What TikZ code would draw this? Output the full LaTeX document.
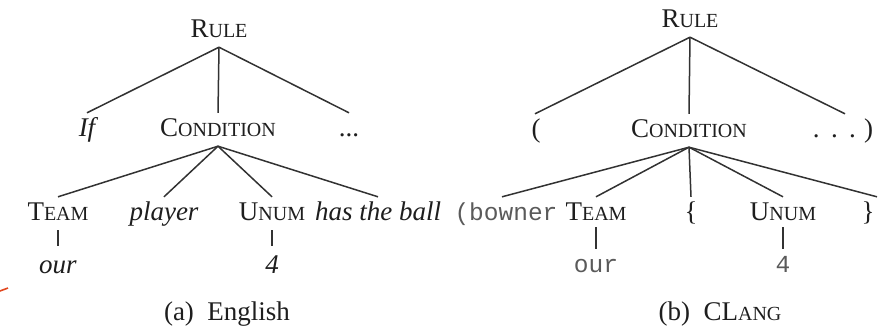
\documentclass[tikz,border=0pt]{standalone}
\usepackage{fontspec}
\setmainfont{Liberation Serif}
\setmonofont{Liberation Mono}
\newcommand\smcap[2]{#1{\fontsize{20}{20}\selectfont #2}}
\definecolor{ink}{RGB}{30,30,30}
\definecolor{lineink}{RGB}{50,50,50}
\definecolor{ttink}{RGB}{90,90,90}
\definecolor{redmark}{RGB}{225,70,30}
\tikzset{
  lbl/.style={inner xsep=0pt, inner ysep=5pt, text height=18pt, text depth=5pt,
              anchor=base, text=ink, font=\fontsize{27}{30}\selectfont},
  it/.style={lbl, font=\fontsize{27}{30}\selectfont\itshape},
  tt/.style={lbl, text=ttink, font=\fontsize{24.5}{28}\selectfont\ttfamily},
  edge/.style={draw=lineink, line width=1.5pt},
  captionlbl/.style={inner sep=0pt, anchor=base, text=ink, font=\fontsize{27}{30}\selectfont}
}
\begin{document}
\begin{tikzpicture}[x=1pt,y=-1pt]
\useasboundingbox (0,0) rectangle (881,325);
% ---- (a) English ----
\node[lbl] (lrule) at (219,37) {\smcap{R}{ULE}};
\node[it]  (lif)   at (87,136) {If};
\node[lbl] (lcond) at (218,136) {\smcap{C}{ONDITION}};
\node[lbl] (ldots) at (349,136) {...};
\node[lbl] (lteam) at (58,220) {\smcap{T}{EAM}};
\node[it]  (lplayer) at (164,220) {player};
\node[lbl] (lunum) at (272,220) {\smcap{U}{NUM}};
\node[it]  (lball) at (378,220) {has the ball};
\node[it]  (lour)  at (58,273) {our};
\node[it]  (lfour) at (272,273) {4};
\node[captionlbl] (lcap)  at (227,320) {(a)\ \ English};
\draw[edge] (lrule.south) -- (lif.north);
\draw[edge] (lrule.south) -- (lcond.north);
\draw[edge] (lrule.south) -- (ldots.north);
\draw[edge] (lcond.south) -- (lteam.north);
\draw[edge] (lcond.south) -- (lplayer.north);
\draw[edge] (lcond.south) -- (lunum.north);
\draw[edge] (lcond.south) -- (lball.north);
\draw[edge, shorten >=4pt] (lteam.south) -- (lteam.south |- lour.north);
\draw[edge, shorten >=4pt] (lunum.south) -- (lunum.south |- lfour.north);
% ---- (b) CLang ----
\node[lbl] (rrule) at (690,27) {\smcap{R}{ULE}};
\node[lbl] (rpar)  at (536,137) {(};
\node[lbl] (rcond) at (689,137) {\smcap{C}{ONDITION}};
\node[lbl] (rdots) at (843,137) {.\hspace{0.42em}.\hspace{0.42em}.\hspace{0.3em})};
\node[tt]  (rbown) at (506,220) {(bowner};
\node[lbl] (rteam) at (596,220) {\smcap{T}{EAM}};
\node[lbl] (rlbr)  at (691,220) {\{};
\node[lbl] (runum) at (783,220) {\smcap{U}{NUM}};
\node[lbl] (rrbr)  at (868,220) {\}};
\node[tt]  (rour)  at (596,272) {our};
\node[tt]  (rfour) at (783,272) {4};
\node[captionlbl] (rcap)  at (720,320) {(b)\ \ CL{\fontsize{20}{20}\selectfont ANG}};
\draw[edge] (rrule.south) -- ([xshift=-1pt]rpar.north);
\draw[edge] (rrule.south) -- (rcond.north);
\draw[edge] (rrule.south) -- ([xshift=2pt]rdots.north);
\draw[edge] (rcond.south) -- ([xshift=-4pt]rbown.north);
\draw[edge] (rcond.south) -- (rteam.north);
\draw[edge] (rcond.south) -- (rlbr.north);
\draw[edge] (rcond.south) -- (runum.north);
\draw[edge] (rcond.south) -- ([xshift=9pt]rrbr.north);
\draw[edge, shorten <=-3pt] (rteam.south) -- (rteam.south |- rour.north);
\draw[edge, shorten <=-3pt] (runum.south) -- (runum.south |- rfour.north);
% small red stroke at the left margin
\draw[redmark, line width=1.6pt] (0,291) -- (8,288);
\end{tikzpicture}
\end{document}
